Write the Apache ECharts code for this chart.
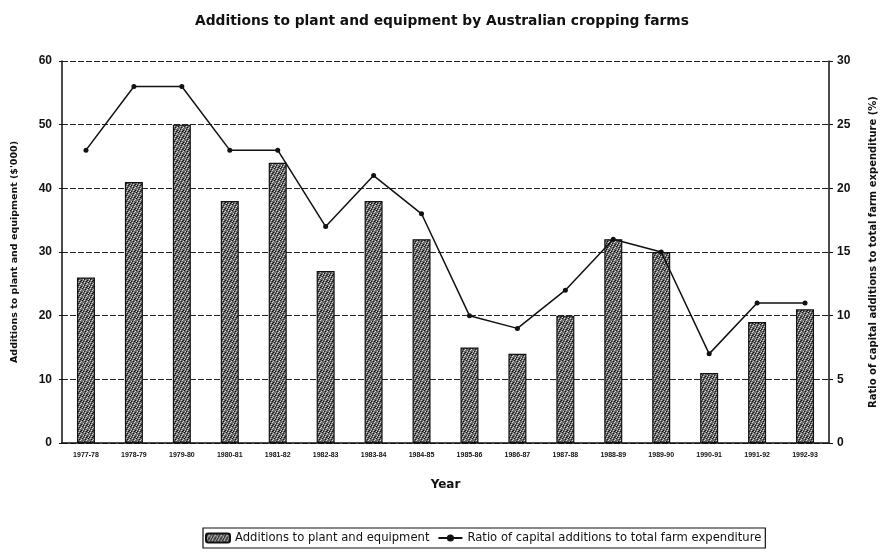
<!DOCTYPE html>
<html><head><meta charset="utf-8">
<script src="https://cdn.jsdelivr.net/npm/echarts@6/dist/echarts.min.js"></script>
<style>html,body{margin:0;padding:0;background:#fff}#c{width:884px;height:553px}</style>
</head><body><div id="c"></div>
<script>
const categories = ['1977-78','1978-79','1979-80','1980-81','1981-82','1982-83','1983-84','1984-85','1985-86','1986-87','1987-88','1988-89','1989-90','1990-91','1991-92','1992-93'];
const additions = [26,41,50,38,44,27,38,32,15,14,20,32,30,11,19,21];
const ratio = [23,28,28,23,23,17,21,18,10,9,12,16,15,7,11,11];
const leftTicks = [0,10,20,30,40,50,60];
const rightTicks = [0,5,10,15,20,25,30];

// fixed speckle texture
const pat = document.createElement('canvas');
pat.width = 6; pat.height = 6;
const g = pat.getContext('2d');
g.fillStyle = '#6a6a6a'; g.fillRect(0,0,6,6);
const light = [[0,0],[3,1],[5,3],[1,4],[4,5],[2,2]];
const dark = [[1,1],[4,0],[0,3],[3,4],[5,5],[2,5]];
g.fillStyle = '#d8d8d8'; light.forEach(p=>g.fillRect(p[0],p[1],1,1));
g.fillStyle = '#111'; dark.forEach(p=>g.fillRect(p[0],p[1],1,1));

const font = 'Liberation Sans, Arial, sans-serif';
const wide = 'DejaVu Sans, sans-serif';
const chart = echarts.init(document.getElementById('c'));
chart.setOption({
  animation: false,
  backgroundColor: '#fff',
  title: {text: 'Additions to plant and equipment by Australian cropping farms', left: 'center', top: 9,
    textStyle: {fontFamily: wide, fontSize: 13.8, fontWeight: 'bold', color: '#111'}},
  grid: {left: 62, right: 55, top: 61, bottom: 110, outerBoundsMode: 'none', containLabel: false},
  legend: {left: 203, top: 528, itemWidth: 24, itemHeight: 9, itemGap: 8, padding: [4,4,4,2],
    borderColor: '#111', borderWidth: 1.2, textStyle: {fontFamily: wide, fontSize: 11.6, color: '#111'},
    data: ['Additions to plant and equipment', 'Ratio of capital additions to total farm expenditure']},
  xAxis: {type: 'category', data: categories, name: 'Year', nameLocation: 'middle', nameGap: 36,
    nameTextStyle: {fontFamily: wide, fontSize: 12, fontWeight: 'bold', color: '#111'},
    axisLine: {lineStyle: {color: '#111', width: 1.5}}, axisTick: {show: false},
    axisLabel: {fontFamily: font, fontSize: 7, fontWeight: 'bold', color: '#111', interval: 0, margin: 9}},
  yAxis: [
    {type: 'value', min: 0, max: 60, interval: 10, name: "Additions to plant and equipment ($'000)",
      nameLocation: 'middle', nameGap: 42, nameRotate: 90,
      nameTextStyle: {fontFamily: wide, fontSize: 9.5, fontWeight: 'bold', color: '#111'},
      axisLine: {show: true, lineStyle: {color: '#111', width: 1.5}}, axisTick: {show: true, length: 3, lineStyle:{color:'#111'}},
      axisLabel: {fontFamily: font, fontSize: 12, fontWeight: 'bold', color: '#111', margin: 10},
      splitLine: {show: true, lineStyle: {color: '#222', type: [6,2], width: 1.2}}},
    {type: 'value', min: 0, max: 30, interval: 5, name: 'Ratio of capital additions to total farm expenditure (%)',
      nameLocation: 'middle', nameGap: 39, nameRotate: 90,
      nameTextStyle: {fontFamily: wide, fontSize: 10, fontWeight: 'bold', color: '#111'},
      axisLine: {show: true, lineStyle: {color: '#111', width: 1.5}}, axisTick: {show: true, length: 4, lineStyle:{color:'#111'}},
      axisLabel: {fontFamily: font, fontSize: 12, fontWeight: 'bold', color: '#111', margin: 8},
      splitLine: {show: false}}
  ],
  series: [
    {name: 'Additions to plant and equipment', type: 'bar', data: additions, barWidth: 18, yAxisIndex: 0,
      itemStyle: {color: {image: pat, repeat: 'repeat'}, borderColor: '#111', borderWidth: 1.2}},
    {name: 'Ratio of capital additions to total farm expenditure', type: 'line', data: ratio, yAxisIndex: 1,
      symbol: 'circle', symbolSize: 5, lineStyle: {color: '#111', width: 1.5}, itemStyle: {color: '#111'}}
  ]
});
</script></body></html>
